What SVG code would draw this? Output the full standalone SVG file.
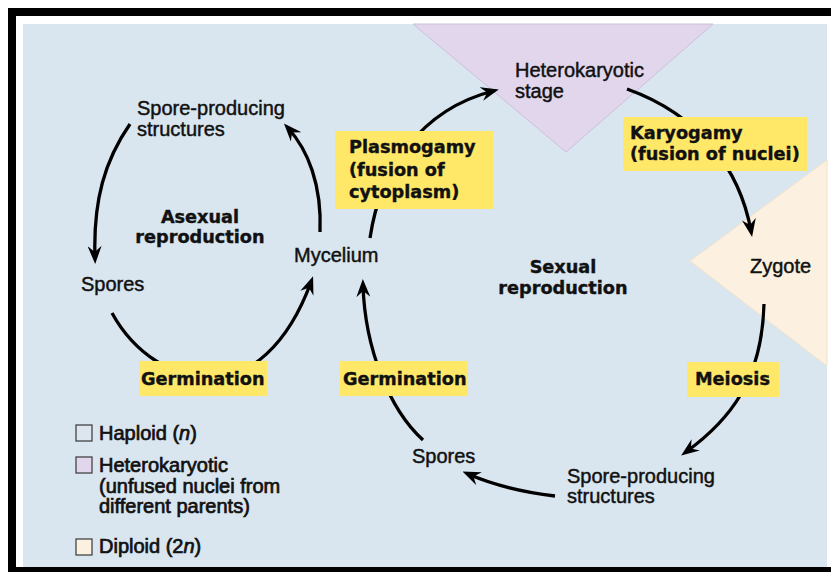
<svg xmlns="http://www.w3.org/2000/svg" width="831" height="572" viewBox="0 0 831 572">
<style>
.lbl{font-family:"Liberation Sans",Arial,sans-serif;font-size:20px;fill:#111;stroke:#111;stroke-width:0.45px}
.hv{font-family:"DejaVu Sans",Arial,sans-serif;font-weight:bold;font-size:17.7px;fill:#111;stroke:#111;stroke-width:0.4px}
.leg{font-family:"Liberation Sans",Arial,sans-serif;font-size:20px;fill:#111;stroke:#111;stroke-width:0.7px}
.ybox{fill:#ffe868}
.arr{fill:none;stroke:#000;stroke-width:3.3px;marker-end:url(#ah)}
.lbox{stroke:#444;stroke-width:1.3px}
</style>
<defs>
<marker id="ah" viewBox="0 0 18 14" refX="12" refY="7" markerWidth="18" markerHeight="14" markerUnits="userSpaceOnUse" orient="auto">
<path d="M0,0 L18,7 L0,14 L6,7 z" fill="#000"/>
</marker>
</defs>
<rect width="831" height="572" fill="#fff"/>
<rect x="23" y="24" width="804" height="544" fill="#d9e5ef"/>
<rect x="8" y="8" width="823" height="8" fill="#000"/>
<rect x="8" y="8" width="8" height="564" fill="#000"/>
<rect x="8" y="567" width="823" height="5" fill="#000"/>
<polygon points="413,24 713,24 566,152" fill="#e1d6eb" stroke="#cdbfdc" stroke-width="1"/>
<polygon points="690,261 827,160 827,366" fill="#fcf0e0" stroke="#f2e3c8" stroke-width="1"/>

<g id="connectors">
<path class="arr" d="M130,124 C105,160 93,200 95,258"/>
<path class="arr" d="M112,313 C135,355 175,378 210,378 C250,378 288,345 311,282"/>
<path class="arr" d="M320,232 C322,185 308,150 288,128"/>
<path class="arr" d="M370,238 C380,170 420,110 493,91"/>
<path class="arr" d="M627,89 C700,115 740,170 751,231"/>
<path class="arr" d="M764,304 C762,380 730,420 686,452"/>
<path class="arr" d="M555,496 Q505,490 468,474"/>
<path class="arr" d="M423,440 C390,410 365,350 363,285"/>
</g>

<g id="spore-producing-asexual"><text class="lbl" x="137" y="115">Spore-producing</text><text class="lbl" x="137" y="136">structures</text></g>
<g id="spores-asexual"><text class="lbl" x="81" y="291">Spores</text></g>
<g id="mycelium"><text class="lbl" x="294" y="262">Mycelium</text></g>
<g id="asexual-title"><text class="hv" x="200" y="223" text-anchor="middle">Asexual</text><text class="hv" x="200" y="243" text-anchor="middle">reproduction</text></g>
<g id="sexual-title"><text class="hv" x="563" y="273" text-anchor="middle">Sexual</text><text class="hv" x="563" y="294" text-anchor="middle">reproduction</text></g>
<g id="heterokaryotic-stage"><text class="lbl" x="515" y="77">Heterokaryotic</text><text class="lbl" x="515" y="98">stage</text></g>
<g id="zygote"><text class="lbl" x="750" y="273">Zygote</text></g>
<g id="spore-producing-sexual"><text class="lbl" x="567" y="483">Spore-producing</text><text class="lbl" x="567" y="503">structures</text></g>
<g id="spores-sexual"><text class="lbl" x="412" y="463">Spores</text></g>

<g id="plasmogamy"><rect class="ybox" x="335" y="131" width="159" height="78"/><text class="hv" x="349" y="153">Plasmogamy</text><text class="hv" x="349" y="176">(fusion of</text><text class="hv" x="349" y="198">cytoplasm)</text></g>
<g id="karyogamy"><rect class="ybox" x="623" y="117" width="184" height="54"/><text class="hv" x="630" y="139">Karyogamy</text><text class="hv" x="630" y="160">(fusion of nuclei)</text></g>
<g id="germination-asexual"><rect class="ybox" x="139" y="361" width="128" height="35"/><text class="hv" x="141" y="385">Germination</text></g>
<g id="germination-sexual"><rect class="ybox" x="340" y="361" width="128" height="35"/><text class="hv" x="343" y="385">Germination</text></g>
<g id="meiosis"><rect class="ybox" x="687" y="362" width="92" height="35"/><text class="hv" x="695" y="385">Meiosis</text></g>

<g id="legend">
<rect class="lbox" x="76" y="425" width="16" height="16" fill="#dde6ee"/>
<text class="leg" x="99" y="440">Haploid (<tspan font-style="italic">n</tspan>)</text>
<rect class="lbox" x="76" y="457" width="16" height="16" fill="#e1d6eb"/>
<text class="leg" x="99" y="472">Heterokaryotic</text>
<text class="leg" x="99" y="493">(unfused nuclei from</text>
<text class="leg" x="99" y="513">different parents)</text>
<rect class="lbox" x="76" y="539" width="16" height="16" fill="#fcf0e0"/>
<text class="leg" x="99" y="553">Diploid (2<tspan font-style="italic">n</tspan>)</text>
</g>
</svg>
